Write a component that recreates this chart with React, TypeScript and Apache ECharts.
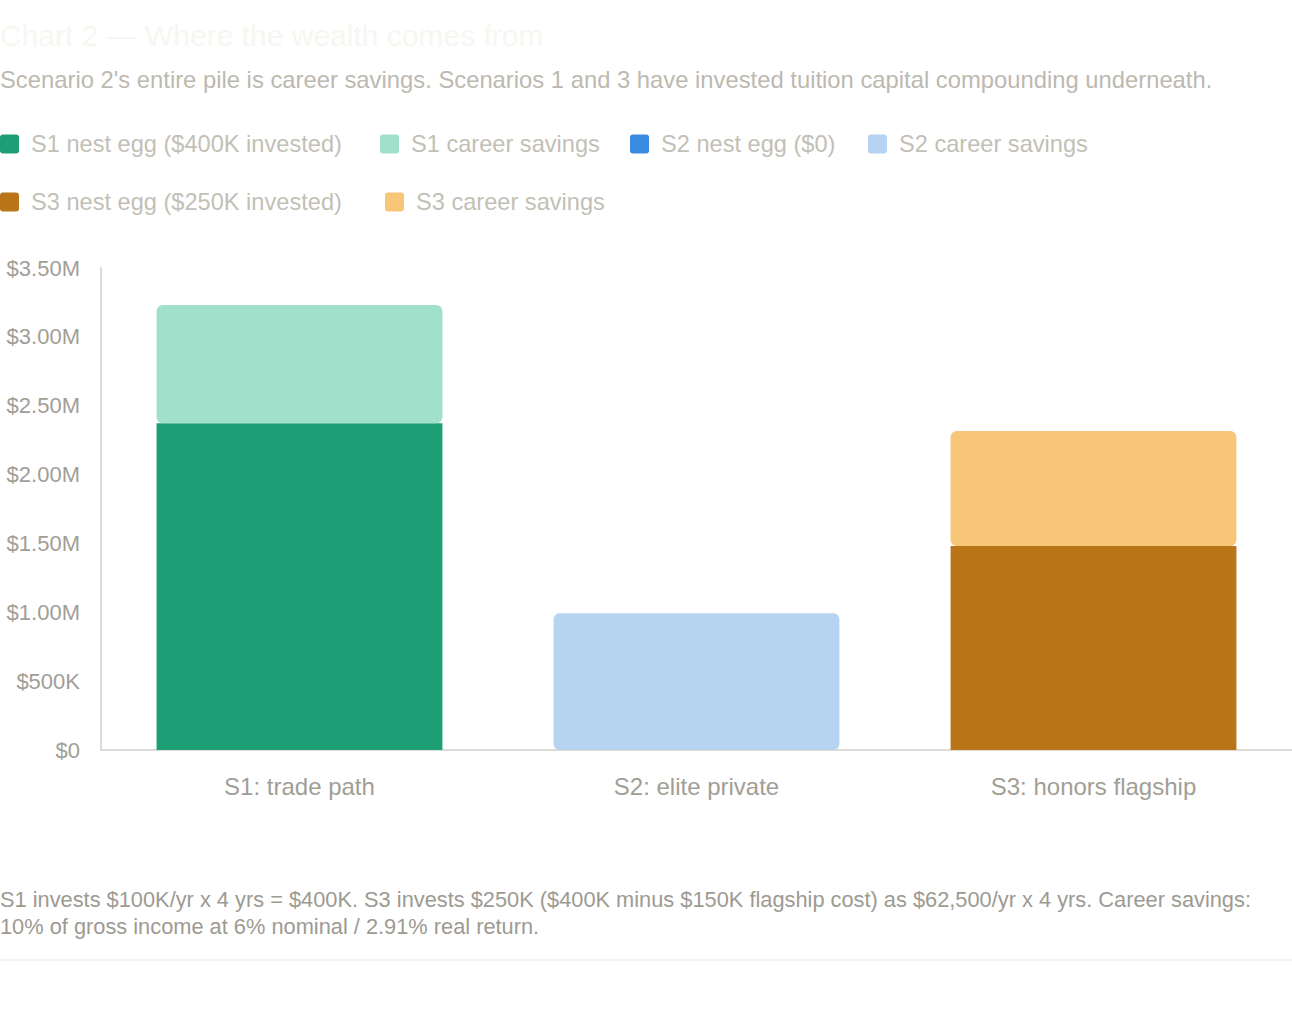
import React, { useEffect, useRef } from "react";
import * as echarts from "echarts";

const categories = ["S1: trade path", "S2: elite private", "S3: honors flagship"];
const nestEgg = [2372000, 0, 1481000];
const careerSavings = [859000, 993000, 835000];
const nestNames = ["S1 nest egg ($400K invested)", "S2 nest egg ($0)", "S3 nest egg ($250K invested)"];
const careerNames = ["S1 career savings", "S2 career savings", "S3 career savings"];
const nestColors = ["#1d9e75", "#3a8bdf", "#b97518"];
const careerColors = ["#a1e1cb", "#b6d4f2", "#f8c677"];
const yMax = 3500000;
const yInterval = 500000;

const titleText = "Chart 2 — Where the wealth comes from";
const subtitleText =
  "Scenario 2's entire pile is career savings. Scenarios 1 and 3 have invested tuition capital compounding underneath.";
const footerLines = [
  "S1 invests $100K/yr x 4 yrs = $400K. S3 invests $250K ($400K minus $150K flagship cost) as $62,500/yr x 4 yrs. Career savings:",
  "10% of gross income at 6% nominal / 2.91% real return.",
];

// legend item placement (layout only)
const legendOrder = [
  nestNames[0], careerNames[0], nestNames[1], careerNames[1], nestNames[2], careerNames[2],
];
const legendPos = [
  [0, 132], [380, 132], [630, 132], [868, 132],
  [0, 190], [385, 190],
];

const FONT = "'Liberation Sans', Arial, Helvetica, sans-serif";

function fmt(v: number): string {
  if (v === 0) return "$0";
  if (v >= 1000000) return "$" + (v / 1000000).toFixed(2) + "M";
  return "$" + Math.round(v / 1000) + "K";
}

export default function App() {
  const ref = useRef<HTMLDivElement>(null);
  useEffect(() => {
    document.body.style.margin = "0";
    if (!ref.current) return;
    const chart = echarts.init(ref.current, null, { renderer: "svg" });
    const series: any[] = [];
    for (let i = 0; i < categories.length; i++) {
      series.push({
        name: nestNames[i],
        type: "bar",
        stack: "total",
        barWidth: "72%",
        itemStyle: { color: nestColors[i], borderRadius: 0 },
        data: categories.map((_, j) => (j === i && nestEgg[i] > 0 ? nestEgg[i] : "-")),
      });
      series.push({
        name: careerNames[i],
        type: "bar",
        stack: "total",
        barWidth: "72%",
        itemStyle: { color: careerColors[i], borderRadius: 6 },
        data: categories.map((_, j) => (j === i ? careerSavings[i] : "-")),
      });
    }
    const legends = legendOrder.map((name, k) => ({
      data: [name],
      left: legendPos[k][0],
      top: legendPos[k][1],
      padding: 0,
      itemWidth: 19,
      itemHeight: 19,
      icon: "path://M3,0 H16 A3,3 0 0 1 19,3 V16 A3,3 0 0 1 16,19 H3 A3,3 0 0 1 0,16 V3 A3,3 0 0 1 3,0 Z",
      textStyle: {
        fontFamily: FONT,
        fontSize: 23.6,
        color: "#c2bfb6",
        padding: [0, 0, 0, 7],
      },
    }));
    chart.setOption({
      animation: false,
      textStyle: { fontFamily: FONT },
      title: [
        {
          text: titleText,
          left: 0,
          top: 20,
          padding: 0,
          textStyle: { fontFamily: FONT, fontSize: 30, fontWeight: "normal", color: "#f7f6f1" },
        },
        {
          text: subtitleText,
          left: 0,
          top: 67,
          padding: 0,
          textStyle: { fontFamily: FONT, fontSize: 23.8, fontWeight: "normal", color: "#bcb9b0" },
        },
      ],
      legend: legends,
      grid: { left: 101, right: 0, top: 268, bottom: 260, containLabel: false },
      xAxis: {
        type: "category",
        data: categories,
        axisLine: { show: true, lineStyle: { color: "#dddbd6", width: 2 } },
        axisTick: { show: false },
        axisLabel: { fontFamily: FONT, fontSize: 24, color: "#a19e96", margin: 24 },
      },
      yAxis: {
        type: "value",
        min: 0,
        max: yMax,
        interval: yInterval,
        axisLine: { show: true, lineStyle: { color: "#dddbd6", width: 2 } },
        axisTick: { show: false },
        splitLine: { show: false },
        axisLabel: {
          fontFamily: FONT,
          fontSize: 22,
          color: "#a19e96",
          margin: 21,
          formatter: (v: number) => fmt(v),
        },
      },
      graphic: [
        {
          type: "text",
          left: 0,
          top: 886,
          style: {
            text: footerLines.join("\n"),
            font: `21.8px ${FONT}`,
            lineHeight: 27,
            fill: "#9d9a92",
          },
        },
        {
          type: "rect",
          shape: { x: 0, y: 959, width: 1292, height: 2 },
          style: { fill: "#f4f3ef" },
        },
      ],
      series,
    });
    return () => chart.dispose();
  }, []);
  return <div ref={ref} style={{ width: 1292, height: 1010 }} />;
}
